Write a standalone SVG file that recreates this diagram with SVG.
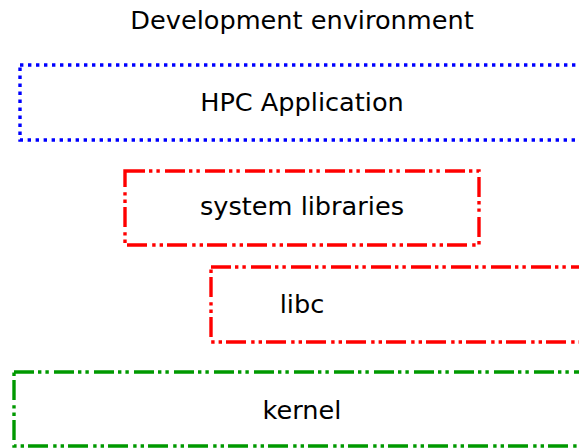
<svg xmlns="http://www.w3.org/2000/svg" width="579" height="448" viewBox="0 0 579 448">
<style>
text{font-family:"DejaVu Sans",sans-serif;font-size:25.6px;fill:#000;text-anchor:middle}
.b{fill:none;stroke-width:3.4}
.blue{stroke:#0000ff;stroke-dasharray:3.4 4.6}
.red{stroke:#ff0000;stroke-dasharray:20 4 3.4 4 3.4 5.2}
.green{stroke:#009900;stroke-dasharray:20 4 3.4 4 3.4 5.2}
</style>
<text x="302" y="29">Development environment</text>
<g id="hpc"><rect class="b blue" x="20" y="65" width="600" height="75"/><text x="302" y="111">HPC Application</text></g>
<g id="syslib"><rect class="b red" x="125" y="171" width="354" height="74"/><text x="302" y="215">system libraries</text></g>
<g id="libc"><rect class="b red" x="211" y="267" width="420" height="75"/><text x="302" y="313">libc</text></g>
<g id="kernel"><rect class="b green" x="14" y="372" width="620" height="74"/><text x="302" y="419">kernel</text></g>
<g id="connectors"/>
</svg>
